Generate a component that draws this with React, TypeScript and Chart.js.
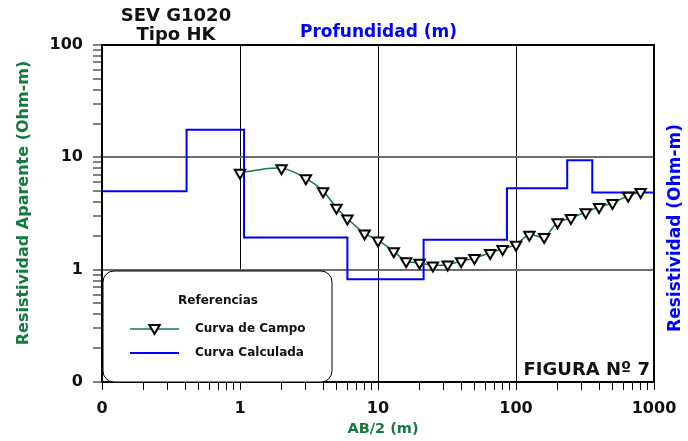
import React, { useEffect, useRef } from 'react';
import { Chart, registerables } from 'chart.js';

Chart.register(...registerables);

// Field curve (Curva de Campo): AB/2 (m) and apparent resistivity (Ohm-m)
const fieldAB2 = [1, 2, 3, 4, 5, 6, 8, 10, 13, 16, 20, 25, 32, 40, 50, 65, 80, 100, 125, 160, 200, 250, 320, 400, 500, 650, 800];
const fieldRho = [7.3, 8.0, 6.5, 5.0, 3.55, 2.85, 2.1, 1.82, 1.46, 1.19, 1.15, 1.09, 1.11, 1.19, 1.27, 1.41, 1.53, 1.67, 2.05, 1.95, 2.64, 2.88, 3.24, 3.61, 3.92, 4.55, 4.91];

// Calculated model (Curva Calculada): top depth of each layer (m) and its resistivity (Ohm-m)
const layerTop = [0.1, 0.41, 1.07, 6.0, 21.4, 86, 235, 357];
const layerRho = [5.0, 17.6, 1.93, 0.82, 1.85, 5.3, 9.4, 4.87];
const modelEnd = 1000;

// Axis ranges and labels
const xMin = 0.1;
const xMax = 1000;
const yMin = 0.1;
const yMax = 100;
const xMajorValues = [0.1, 1, 10, 100, 1000];
const xMajorLabels = ['0', '1', '10', '100', '1000'];
const yMajorValues = [0.1, 1, 10, 100];
const yMajorLabels = ['0', '1', '10', '100'];

const GREEN = '#137a3f';
const LINE_GREEN = '#177a45';
const BLUE = '#0000ff';
const FONT = '"DejaVu Sans", sans-serif';

function logTicks(min: number, max: number): number[] {
  const out: number[] = [];
  for (let d = min; d < max * 0.999; d *= 10) {
    for (let k = 1; k <= 9; k++) out.push(+(k * d).toPrecision(6));
  }
  out.push(max);
  return out;
}

function isMajor(v: number): boolean {
  const l = Math.log10(v);
  return Math.abs(l - Math.round(l)) < 1e-6;
}

function labelFor(v: number, values: number[], labels: string[]): string {
  for (let i = 0; i < values.length; i++) {
    if (Math.abs(values[i] - v) / values[i] < 1e-6) return labels[i];
  }
  return '';
}

const decorPlugin = {
  id: 'decor',
  afterDraw(chart: any) {
    const ctx: CanvasRenderingContext2D = chart.ctx;
    const { left, top, right, bottom } = chart.chartArea;
    ctx.save();

    // top and right frame
    ctx.strokeStyle = '#000';
    ctx.lineWidth = 2;
    ctx.beginPath();
    ctx.moveTo(left, top);
    ctx.lineTo(right, top);
    ctx.lineTo(right, bottom);
    ctx.stroke();

    // legend box
    const bx = left + 1, by = 271, bw = 229, bh = bottom - 271;
    const r = 11;
    ctx.beginPath();
    ctx.moveTo(bx + r, by);
    ctx.lineTo(bx + bw - r, by);
    ctx.arcTo(bx + bw, by, bx + bw, by + r, r);
    ctx.lineTo(bx + bw, by + bh - r);
    ctx.arcTo(bx + bw, by + bh, bx + bw - r, by + bh, r);
    ctx.lineTo(bx + r, by + bh);
    ctx.arcTo(bx, by + bh, bx, by + bh - r, r);
    ctx.lineTo(bx, by + r);
    ctx.arcTo(bx, by, bx + r, by, r);
    ctx.closePath();
    ctx.fillStyle = '#fff';
    ctx.fill();
    ctx.strokeStyle = '#000';
    ctx.lineWidth = 1;
    ctx.stroke();

    ctx.fillStyle = '#111';
    ctx.font = `bold 12px ${FONT}`;
    ctx.textAlign = 'center';
    ctx.textBaseline = 'middle';
    ctx.fillText('Referencias', 218, 301);

    // field legend item
    ctx.strokeStyle = LINE_GREEN;
    ctx.lineWidth = 1.5;
    ctx.beginPath();
    ctx.moveTo(130, 329);
    ctx.lineTo(179, 329);
    ctx.stroke();
    const tx = 154.5, ty = 328, s = 6;
    ctx.beginPath();
    ctx.moveTo(tx - s * 0.866, ty - s * 0.5);
    ctx.lineTo(tx + s * 0.866, ty - s * 0.5);
    ctx.lineTo(tx, ty + s);
    ctx.closePath();
    ctx.fillStyle = '#fff';
    ctx.fill();
    ctx.strokeStyle = '#000';
    ctx.lineWidth = 2;
    ctx.stroke();

    // calculated legend item
    ctx.strokeStyle = BLUE;
    ctx.lineWidth = 2;
    ctx.beginPath();
    ctx.moveTo(130, 353);
    ctx.lineTo(179, 353);
    ctx.stroke();

    ctx.fillStyle = '#111';
    ctx.textAlign = 'left';
    ctx.font = `bold 12px ${FONT}`;
    ctx.fillText('Curva de Campo', 195, 329);
    ctx.fillText('Curva Calculada', 195, 353);

    // titles
    ctx.textBaseline = 'alphabetic';
    ctx.textAlign = 'center';
    ctx.fillStyle = '#111';
    ctx.font = `bold 18px ${FONT}`;
    ctx.fillText('SEV G1020', 176, 21);
    ctx.fillText('Tipo HK', 176, 40);

    ctx.fillStyle = BLUE;
    ctx.font = `bold 17px ${FONT}`;
    ctx.fillText('Profundidad (m)', 378.5, 37);

    ctx.fillStyle = GREEN;
    ctx.font = `bold 14.5px ${FONT}`;
    ctx.fillText('AB/2 (m)', 383, 433);

    ctx.fillStyle = '#111';
    ctx.font = `bold 18px ${FONT}`;
    ctx.textAlign = 'right';
    ctx.fillText('FIGURA Nº 7', 650, 375);

    // rotated axis titles
    ctx.textAlign = 'center';
    ctx.textBaseline = 'middle';
    ctx.save();
    ctx.translate(24, 203);
    ctx.rotate(-Math.PI / 2);
    ctx.fillStyle = GREEN;
    ctx.font = `bold 16px ${FONT}`;
    ctx.fillText('Resistividad Aparente (Ohm-m)', 0, 0);
    ctx.restore();

    ctx.save();
    ctx.translate(676, 228);
    ctx.rotate(-Math.PI / 2);
    ctx.fillStyle = BLUE;
    ctx.font = `bold 17px ${FONT}`;
    ctx.fillText('Resistividad (Ohm-m)', 0, 0);
    ctx.restore();

    ctx.restore();
  },
};

export default function App() {
  const ref = useRef<HTMLCanvasElement>(null);

  useEffect(() => {
    document.body.style.margin = '0';
    const fieldData = fieldAB2.map((x, i) => ({ x, y: fieldRho[i] }));
    const modelData = layerTop.map((x, i) => ({ x, y: layerRho[i] }));
    modelData.push({ x: modelEnd, y: layerRho[layerRho.length - 1] });

    const chart = new Chart(ref.current as HTMLCanvasElement, {
      type: 'line',
      data: {
        datasets: [
          {
            label: 'Curva de Campo',
            data: fieldData,
            borderColor: LINE_GREEN,
            borderWidth: 1.5,
            tension: 0.35,
            pointStyle: 'triangle',
            rotation: 180,
            pointRadius: 6,
            pointBackgroundColor: '#fff',
            pointBorderColor: '#000',
            pointBorderWidth: 2,
            fill: false,
          },
          {
            label: 'Curva Calculada',
            data: modelData,
            borderColor: BLUE,
            borderWidth: 2,
            stepped: 'before',
            pointRadius: 0,
            fill: false,
          },
        ],
      },
      options: {
        responsive: false,
        animation: false,
        devicePixelRatio: 1,
        events: [],
        layout: { padding: { top: 45, right: 34, left: 0, bottom: 0 } },
        plugins: {
          legend: { display: false },
          tooltip: { enabled: false },
          title: { display: false },
        },
        scales: {
          x: {
            type: 'logarithmic',
            min: xMin,
            max: xMax,
            afterBuildTicks: (scale: any) => {
              scale.ticks = logTicks(xMin, xMax).map((v) => ({ value: v }));
            },
            afterFit: (scale: any) => {
              scale.height = 59;
            },
            ticks: {
              autoSkip: false,
              maxRotation: 0,
              minRotation: 0,
              padding: 9,
              color: '#111',
              font: { family: FONT, size: 16, weight: 'bold' },
              callback: (v: any) => labelFor(Number(v), xMajorValues, xMajorLabels),
            },
            grid: {
              drawTicks: true,
              tickLength: 8,
              tickColor: '#000',
              tickWidth: 1,
              color: (c: any) => {
                const v = c.tick ? c.tick.value : 0;
                return isMajor(v) && v > xMin && v < xMax ? '#000' : 'rgba(0,0,0,0)';
              },
              lineWidth: 1,
            },
            border: { display: true, color: '#000', width: 2 },
          },
          y: {
            type: 'logarithmic',
            min: yMin,
            max: yMax,
            afterBuildTicks: (scale: any) => {
              scale.ticks = logTicks(yMin, yMax).map((v) => ({ value: v }));
            },
            afterFit: (scale: any) => {
              scale.width = 102;
            },
            ticks: {
              autoSkip: false,
              padding: 10,
              color: '#111',
              font: { family: FONT, size: 16, weight: 'bold' },
              callback: (v: any) => labelFor(Number(v), yMajorValues, yMajorLabels),
            },
            grid: {
              drawTicks: true,
              tickLength: 9,
              tickColor: '#000',
              tickWidth: 1,
              color: (c: any) => {
                const v = c.tick ? c.tick.value : 0;
                return isMajor(v) && v > yMin && v < yMax ? '#6e6e6e' : 'rgba(0,0,0,0)';
              },
              lineWidth: 2,
            },
            border: { display: true, color: '#000', width: 2 },
          },
        },
      },
      plugins: [decorPlugin],
    } as any);

    return () => chart.destroy();
  }, []);

  return (
    <div style={{ width: 688, height: 441 }}>
      <canvas ref={ref} width={688} height={441} style={{ display: 'block', width: 688, height: 441 }} />
    </div>
  );
}
